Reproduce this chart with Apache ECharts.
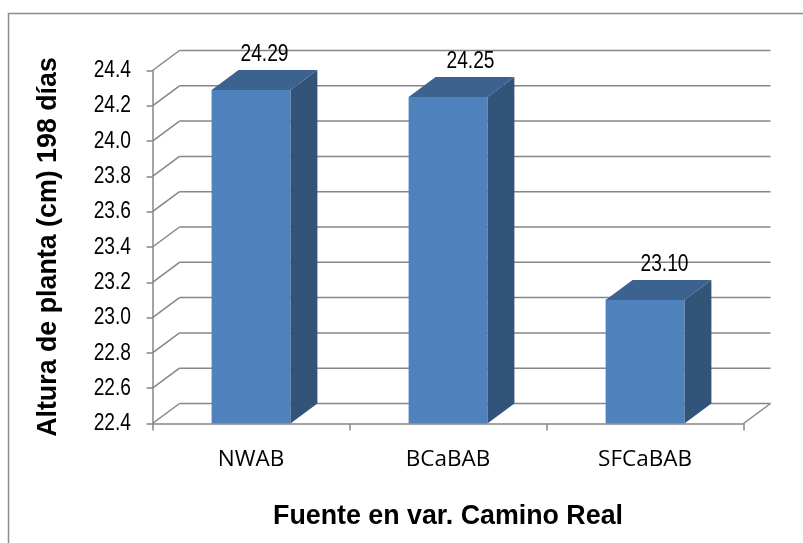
<!DOCTYPE html>
<html>
<head>
<meta charset="utf-8">
<style>
  html, body { margin: 0; padding: 0; background: #fff; }
  #chart { width: 803px; height: 543px; }
</style>
<script src="https://cdn.jsdelivr.net/npm/echarts@6/dist/echarts.min.js"></script>
</head>
<body>
<div id="chart"></div>
<script>
const categories = ['NWAB', 'BCaBAB', 'SFCaBAB'];
const alturas = [24.29, 24.25, 23.10];
const yTicks = [22.4, 22.6, 22.8, 23.0, 23.2, 23.4, 23.6, 23.8, 24.0, 24.2, 24.4];

const DX = 27;
const DY = 20;
const gridColor = '#868686';
const textFont = '24px "Liberation Sans", sans-serif';
const TEXT_SQUEEZE = 0.8;
// the value labels were moved by hand in the original
const labelShift = [0, 9, 6];

let myChart = echarts.init(document.getElementById('chart'), null, { renderer: 'canvas' });

// back wall: one diagonal and one long line per tick, plus the tick label
function renderWall(params, api) {
    let tick = api.value(0);
    let left = params.coordSys.x;
    let right = left + params.coordSys.width;
    let y = api.coord([0, tick])[1];
    let style = { stroke: gridColor, lineWidth: 1.5, fill: null };
    let children = [
        { type: 'line', shape: { x1: left, y1: y, x2: left + DX, y2: y - DY }, style },
        { type: 'line', shape: { x1: left + DX, y1: y - DY, x2: right + DX, y2: y - DY }, style },
        { type: 'text', x: left - 21.5, y: y, scaleX: TEXT_SQUEEZE,
          style: { text: tick.toFixed(1), fill: '#000', font: textFont, align: 'right', verticalAlign: 'middle' } }
    ];
    if (tick === yTicks[0]) {
        children.push({ type: 'line', shape: { x1: right, y1: y, x2: right + DX, y2: y - DY }, style });
    }
    return { type: 'group', children };
}

function renderBar(params, api) {
    let idx = api.value(0);
    let top = api.coord([idx, api.value(1)]);
    let base = api.coord([idx, yTicks[0]]);
    let w = api.size([1, 0])[0] * 0.4;
    let x0 = top[0] - w / 2;
    let x1 = top[0] + w / 2;
    let y0 = top[1];
    let y1 = base[1];
    return {
        type: 'group',
        children: [
            { type: 'polygon', shape: { points: [[x1, y0], [x1 + DX, y0 - DY], [x1 + DX, y1 - DY], [x1, y1]] },
              style: { fill: '#325479' } },
            { type: 'polygon', shape: { points: [[x0, y0], [x0 + DX, y0 - DY], [x1 + DX, y0 - DY], [x1, y0]] },
              style: { fill: '#3c628f' } },
            { type: 'rect', shape: { x: x0, y: y0, width: w, height: y1 - y0 },
              style: { fill: '#4f81bd' } },
            { type: 'text', x: top[0] + DX / 2 + labelShift[idx], y: y0 - DY - 16, scaleX: TEXT_SQUEEZE,
              style: { text: api.value(1).toFixed(2), fill: '#000', font: textFont, align: 'center', verticalAlign: 'middle' } }
        ]
    };
}

let option = {
    animation: false,
    backgroundColor: '#fff',
    graphic: [
        // frame runs off the right and bottom of the picture
        { type: 'rect', z: -1, shape: { x: 8.5, y: 13.5, width: 900, height: 700 },
          style: { stroke: '#8c8c8c', lineWidth: 1.5, fill: '#fff' } }
    ],
    grid: { left: 152.5, top: 70.5, width: 591, height: 353, outerBoundsMode: 'none' },
    xAxis: {
        type: 'category',
        data: categories,
        name: 'Fuente en var. Camino Real',
        nameLocation: 'middle',
        nameGap: 80,
        nameTextStyle: { fontFamily: '"Liberation Sans"', fontWeight: 'bold', fontSize: 26.8, color: '#000' },
        axisLine: { lineStyle: { color: gridColor, width: 1.5 } },
        axisTick: { show: true, length: 7, alignWithLabel: false, lineStyle: { color: gridColor, width: 1.5 } },
        axisLabel: { fontFamily: '"Open Sans"', fontSize: 22.5, color: '#000', margin: 25 },
        splitLine: { show: false }
    },
    yAxis: {
        type: 'value',
        min: 22.4,
        max: 24.4,
        interval: 0.2,
        name: 'Altura de planta (cm) 198 días',
        nameLocation: 'middle',
        nameGap: 90,
        nameTextStyle: { fontFamily: '"Liberation Sans"', fontWeight: 'bold', fontSize: 26.8, color: '#000' },
        axisLine: { show: true, lineStyle: { color: gridColor, width: 1.5 } },
        axisTick: { show: true, length: 6, lineStyle: { color: gridColor, width: 1.5 } },
        axisLabel: { show: false },
        splitLine: { show: false }
    },
    series: [
        {
            type: 'custom',
            renderItem: renderWall,
            clip: false,
            silent: true,
            z: 1,
            encode: { y: 0 },
            data: yTicks.map(t => [t])
        },
        {
            type: 'custom',
            renderItem: renderBar,
            clip: false,
            z: 3,
            encode: { x: 0, y: 1 },
            data: alturas.map((v, i) => [i, v])
        }
    ]
};

myChart.setOption(option);
</script>
</body>
</html>
